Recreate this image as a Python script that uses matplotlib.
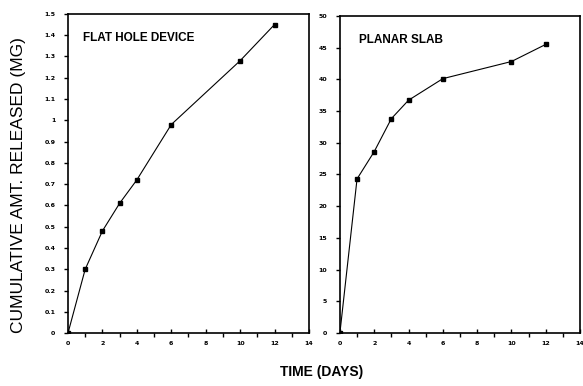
import matplotlib
matplotlib.use("Agg")
import matplotlib.pyplot as plt
from matplotlib.ticker import MultipleLocator

days = [0, 1, 2, 3, 4, 6, 10, 12]
flat_hole = [0, 0.30, 0.48, 0.61, 0.72, 0.98, 1.28, 1.45]
planar_slab = [0, 24.3, 28.6, 33.8, 36.7, 40.1, 42.8, 45.5]

flat_yticks = [0, 0.1, 0.2, 0.3, 0.4, 0.5, 0.6, 0.7, 0.8, 0.9, 1, 1.1, 1.2, 1.3, 1.4, 1.5]
flat_ylabels = ["0", "0.1", "0.2", "0.3", "0.4", "0.5", "0.6", "0.7", "0.8", "0.9", "1",
                "1.1", "1.2", "1.3", "1.4", "1.5"]
slab_yticks = [0, 5, 10, 15, 20, 25, 30, 35, 40, 45, 50]
xticks = [0, 2, 4, 6, 8, 10, 12, 14]

fig = plt.figure(figsize=(5.83, 3.86), dpi=100)
ax1 = fig.add_axes([0.1166, 0.137, 0.4134, 0.827])
ax2 = fig.add_axes([0.583, 0.137, 0.412, 0.822])

def style(ax, yticks, ylabels, ymax, title, tx):
    ax.set_xlim(0, 14)
    ax.set_ylim(0, ymax)
    ax.set_xticks(xticks)
    ax.set_xticklabels([str(t) for t in xticks])
    ax.xaxis.set_minor_locator(MultipleLocator(1))
    ax.set_yticks(yticks)
    ax.set_yticklabels(ylabels)
    ax.tick_params(axis="both", which="major", labelsize=4.5, length=3, width=1, pad=6)
    ax.tick_params(axis="x", which="minor", length=3, width=1)
    ax.tick_params(axis="y", direction="out")
    ax.tick_params(axis="x", direction="in")
    for lbl in ax.get_xticklabels() + ax.get_yticklabels():
        lbl.set_fontweight("bold")
    for sp in ax.spines.values():
        sp.set_linewidth(1.2)
    ax.text(tx, 0.925, title, transform=ax.transAxes, fontsize=8.5, va="center",
            family="Liberation Sans", fontweight="bold")

ax1.plot(days, flat_hole, color="black", linewidth=0.8, marker="s", markersize=3.5)
style(ax1, flat_yticks, flat_ylabels, 1.5, "FLAT HOLE DEVICE", 0.062)

ax2.plot(days, planar_slab, color="black", linewidth=0.8, marker="s", markersize=3.5)
style(ax2, slab_yticks, [str(t) for t in slab_yticks], 50, "PLANAR SLAB", 0.079)

fig.text(0.552, 0.036, "TIME (DAYS)", ha="center", va="center", fontsize=10,
         family="Liberation Sans", fontweight="bold")
fig.text(0.032, 0.52, "CUMULATIVE AMT. RELEASED (MG)", rotation=90, va="center",
         ha="center", fontsize=12.5, family="Liberation Sans")

fig.savefig("out.png", dpi=100)
